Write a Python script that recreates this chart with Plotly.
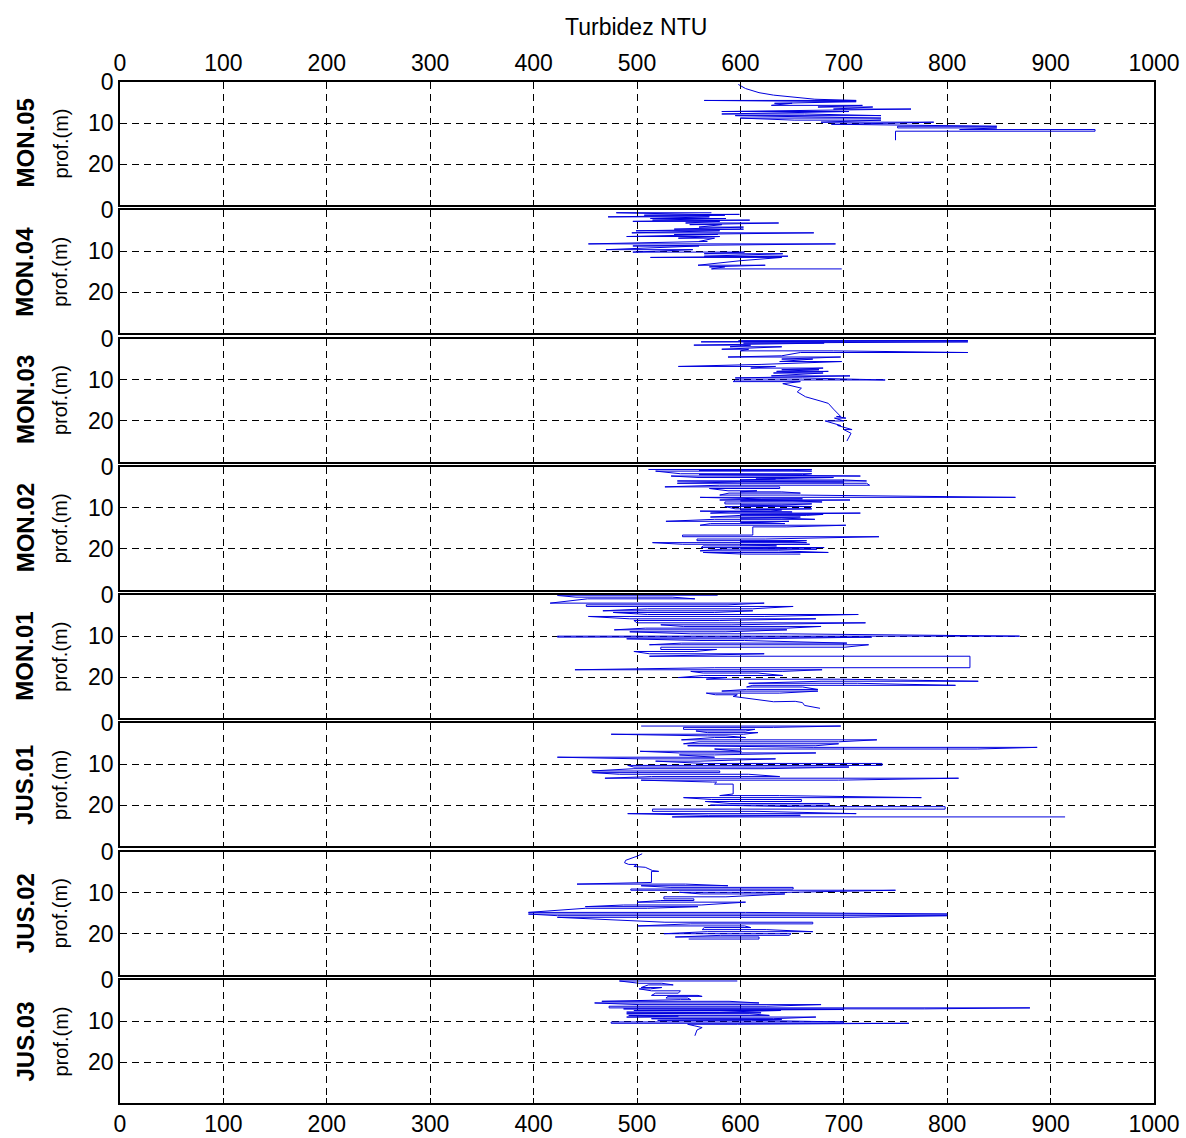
import plotly.graph_objects as go

# ---------------- data ----------------
# each row: (depth m, NTU start of segment, NTU end of segment)
stations = ["MON.05", "MON.04", "MON.03", "MON.02", "MON.01", "JUS.01", "JUS.02", "JUS.03"]

x_ticks = [0, 100, 200, 300, 400, 500, 600, 700, 800, 900, 1000]
y_ticks = [0, 10, 20]

mon05 = [(0.6, 598, 598), (1.6, 605, 605), (2.6, 618, 618), (3.2, 632, 632), (4.2, 672, 672),
         (4.5, 712, 565), (4.8, 700, 712), (5.2, 633, 650), (5.7, 630, 718), (6.1, 675, 728),
         (6.6, 690, 765), (7.2, 582, 705), (7.8, 582, 662), (8.2, 736, 595), (8.8, 736, 600),
         (9.3, 652, 736), (9.8, 678, 787), (10.3, 700, 688), (10.8, 848, 752), (11.2, 752, 848),
         (11.6, 812, 943), (12.0, 943, 750), (14.2, 750, 750)]

mon04 = [(0.6, 572, 480), (1.0, 560, 599), (1.2, 507, 585), (1.6, 472, 570), (2.0, 513, 586),
         (2.4, 515, 609), (2.7, 496, 580), (3.1, 547, 637), (3.5, 551, 582), (4.1, 560, 603),
         (4.6, 536, 603), (5.0, 499, 580), (5.5, 495, 671), (5.9, 536, 578), (6.4, 490, 580),
         (6.8, 540, 575), (7.6, 560, 568), (8.2, 453, 692), (8.7, 496, 560), (9.6, 470, 554),
         (10.2, 496, 604), (10.6, 565, 641), (11.2, 565, 646), (11.5, 513, 640), (12.3, 600, 600),
         (13.4, 559, 624), (13.8, 570, 585), (14.3, 572, 698)]

mon03 = [(0.5, 598, 820), (0.8, 562, 820), (1.1, 603, 681), (1.6, 555, 610), (2.0, 590, 640),
         (2.6, 582, 608), (3.0, 600, 690), (3.4, 820, 658), (4.2, 640, 640), (4.5, 588, 697),
         (5.0, 640, 670), (5.6, 638, 698), (6.3, 620, 620), (6.8, 540, 634), (7.2, 610, 680),
         (7.6, 640, 676), (8.0, 635, 685), (8.4, 632, 680), (9.1, 630, 706), (9.6, 595, 660),
         (10.1, 740, 595), (10.5, 593, 658), (11.0, 641, 641), (11.6, 651, 651), (12.1, 659, 659),
         (13.0, 655, 655), (14.2, 663, 663), (15.2, 677, 677), (15.8, 685, 685), (17.2, 690, 690),
         (19.0, 697, 693), (19.4, 702, 691), (20.1, 700, 682), (21.2, 697, 694), (22.2, 708, 700),
         (23.1, 707, 707), (25.0, 703, 703)]

mon02 = [(0.64, 511, 669), (0.85, 560, 650), (1.04, 669, 518), (1.68, 542, 669), (1.9, 660, 560),
         (2.24, 716, 533), (2.6, 560, 690), (2.96, 615, 634), (3.2, 600, 700), (3.44, 722, 539),
         (3.7, 700, 600), (4.0, 539, 722), (4.48, 725, 580), (4.88, 527, 638), (5.28, 638, 570),
         (5.84, 588, 616), (6.1, 600, 640), (6.4, 658, 589), (6.88, 580, 658), (7.44, 866, 561),
         (7.8, 620, 660), (8.08, 580, 706), (8.3, 600, 650), (8.56, 679, 585), (9.04, 585, 669),
         (9.3, 640, 600), (9.68, 669, 585), (10.24, 595, 669), (10.5, 600, 640), (10.8, 629, 561),
         (11.0, 650, 590), (11.28, 571, 716), (11.6, 600, 680), (11.84, 664, 600), (12.24, 571, 658),
         (12.5, 600, 640), (12.8, 672, 575), (13.28, 528, 647), (13.6, 600, 620), (13.84, 643, 571),
         (14.24, 561, 702), (14.64, 645, 612), (16.3, 612, 612), (16.64, 612, 544), (17.04, 544, 734),
         (17.6, 624, 558), (18.0, 558, 664), (18.2, 600, 650), (18.48, 664, 515), (18.88, 544, 667),
         (19.0, 650, 600), (19.28, 635, 564), (19.68, 562, 681), (19.9, 600, 640), (20.08, 674, 583),
         (20.48, 561, 637), (20.88, 685, 564), (21.28, 603, 658)]

mon01 = [(0.08, 578, 423), (0.49, 441, 534), (0.9, 556, 452), (1.95, 416, 623), (2.36, 588, 451),
         (2.76, 451, 651), (3.33, 612, 510), (3.82, 467, 612), (4.23, 575, 477), (4.72, 510, 714),
         (5.2, 623, 453), (5.77, 493, 673), (6.18, 580, 497), (6.75, 500, 721), (7.24, 591, 523),
         (7.64, 545, 678), (8.05, 645, 508), (8.46, 478, 645), (8.94, 586, 493), (9.43, 552, 641),
         (10.0, 870, 423), (10.24, 423, 727), (10.65, 608, 490), (11.06, 560, 604), (11.7, 703, 543),
         (12.1, 512, 724), (12.7, 701, 523), (13.25, 523, 577), (13.74, 556, 497), (14.3, 512, 623),
         (14.9, 512, 822), (17.7, 822, 575), (18.2, 440, 679), (18.6, 641, 552), (19.0, 564, 617),
         (19.6, 641, 564), (20.1, 540, 586), (20.5, 567, 697), (21.0, 830, 678), (21.5, 608, 713),
         (22.0, 808, 612), (22.4, 606, 660), (23.0, 675, 606), (23.4, 582, 675), (23.9, 638, 567),
         (24.3, 576, 597), (24.7, 593, 593), (25.3, 610, 610), (26.0, 632, 632), (25.9, 653, 653),
         (26.2, 660, 660), (26.9, 662, 662), (27.3, 670, 670), (27.6, 677, 677)]

jus01 = [(0.64, 504, 697), (0.96, 632, 545), (1.44, 545, 614), (1.84, 605, 557), (2.24, 568, 617),
         (2.64, 603, 475), (3.04, 568, 586), (3.44, 605, 575), (4.0, 543, 732), (4.48, 695, 560),
         (4.96, 545, 695), (5.44, 673, 549), (5.84, 671, 887), (6.24, 829, 575), (6.8, 601, 503),
         (7.2, 541, 673), (7.68, 575, 541), (8.24, 575, 423), (8.64, 503, 634), (9.2, 561, 518),
         (9.76, 565, 737), (10.24, 737, 491), (10.64, 497, 705), (11.04, 623, 497), (11.6, 456, 580),
         (12.0, 580, 457), (12.4, 483, 608), (12.96, 638, 514), (13.36, 469, 811), (13.84, 695, 504),
         (14.3, 573, 577), (14.8, 575, 593), (17.2, 593, 593), (17.6, 580, 638), (18.1, 775, 545),
         (18.56, 572, 659), (19.04, 659, 566), (19.52, 590, 686), (19.92, 686, 571), (20.3, 653, 798),
         (20.9, 798, 515), (21.44, 515, 615), (22.0, 712, 491), (22.4, 569, 658), (22.8, 534, 914)]

jus02 = [(0.5, 505, 505), (1.1, 500, 500), (2.1, 489, 489), (2.7, 488, 488), (3.1, 492, 500),
         (3.6, 497, 497), (3.8, 508, 508), (4.6, 515, 515), (4.8, 521, 514), (7.5, 514, 514),
         (7.9, 442, 547), (8.3, 588, 504), (8.7, 532, 651), (9.1, 651, 494), (9.4, 494, 750),
         (9.9, 645, 541), (10.3, 562, 643), (11.0, 586, 526), (11.5, 526, 555), (11.9, 555, 523),
         (12.3, 500, 605), (13.0, 562, 487), (13.4, 450, 559), (13.8, 510, 450), (14.8, 395, 605),
         (15.2, 800, 395), (15.6, 423, 800), (16.0, 703, 423), (17.2, 527, 670), (17.6, 670, 552),
         (18.1, 501, 604), (18.5, 610, 565), (19.0, 563, 625), (19.5, 670, 568), (20.0, 526, 649),
         (20.4, 647, 581), (20.8, 537, 618), (21.3, 618, 550)]

jus03 = [(0.24, 597, 483), (0.8, 502, 524), (1.2, 535, 511), (1.84, 504, 524), (2.16, 513, 502),
         (2.64, 514, 542), (3.2, 540, 518), (3.76, 514, 559), (4.0, 563, 530), (4.4, 528, 549),
         (4.8, 552, 542), (5.2, 466, 589), (5.6, 618, 459), (6.0, 502, 678), (6.4, 625, 473),
         (6.8, 473, 880), (7.04, 778, 487), (7.2, 540, 700), (7.44, 497, 639), (7.84, 580, 490),
         (8.0, 560, 620), (8.24, 490, 609), (8.64, 628, 492), (8.8, 600, 540), (9.04, 490, 673),
         (9.44, 632, 514), (9.6, 560, 640), (9.84, 520, 611), (10.24, 700, 475), (10.56, 475, 763),
         (10.8, 597, 549), (11.2, 556, 556), (11.6, 563, 563), (12.2, 558, 558), (13.6, 556, 556)]

profiles = [mon05, mon04, mon03, mon02, mon01, jus01, jus02, jus03]

# ---------------- layout geometry ----------------
W, H = 1186, 1138
ml, mr, mt, mb = 120, 32, 82, 35
plot_w = W - ml - mr
plot_h = H - mt - mb
panel_h = 123
gap = (plot_h - 8 * panel_h) / 7

FONT = "Liberation Sans, Arial, Helvetica, sans-serif"
LINE_COLOR = "#0000dd"

fig = go.Figure()
layout = {}
annotations = []

for i, (name, rows) in enumerate(zip(stations, profiles)):
    xs, ys = [], []
    for d, a, b in rows:
        xs.extend([a, b])
        ys.extend([d, d])
    n = i + 1
    fig.add_trace(go.Scatter(
        x=xs, y=ys, mode="lines",
        line=dict(color=LINE_COLOR, width=1),
        xaxis=f"x{n}", yaxis=f"y{n}",
        showlegend=False, hoverinfo="skip"))

    top_px = i * (panel_h + gap)
    y1 = 1 - top_px / plot_h
    y0 = 1 - (top_px + panel_h) / plot_h

    xkey = "xaxis" if n == 1 else f"xaxis{n}"
    ykey = "yaxis" if n == 1 else f"yaxis{n}"
    layout[xkey] = dict(
        domain=[0, 1], anchor=f"y{n}", range=[0, 1000],
        tickmode="array", tickvals=x_ticks,
        showticklabels=(n == 1 or n == 8),
        side="top" if n == 1 else "bottom",
        ticks="inside", ticklen=5, tickwidth=1, tickcolor="black",
        showline=True, linecolor="black", linewidth=1.5, mirror="ticks",
        showgrid=True, gridcolor="black", gridwidth=1, griddash="7px,5px",
        zeroline=False, automargin=False,
        tickfont=dict(size=23, color="black", family=FONT),
    )
    layout[ykey] = dict(
        domain=[y0, y1], anchor=f"x{n}", range=[30, 0],
        tickmode="array", tickvals=y_ticks,
        ticks="inside", ticklen=5, tickwidth=1, tickcolor="black",
        showline=True, linecolor="black", linewidth=1.5, mirror="ticks",
        showgrid=True, gridcolor="black", gridwidth=1, griddash="7px,5px",
        zeroline=False, automargin=False,
        tickfont=dict(size=23, color="black", family=FONT),
    )
    yc = (y0 + y1) / 2
    annotations.append(dict(
        text=f"<b>{name}</b>", xref="paper", yref="paper",
        x=(25 - ml) / plot_w, y=yc, xanchor="center", yanchor="middle",
        textangle=-90, showarrow=False,
        font=dict(size=24, color="black", family=FONT)))
    annotations.append(dict(
        text="prof.(m)", xref="paper", yref="paper",
        x=(60 - ml) / plot_w, y=yc, xanchor="center", yanchor="middle",
        textangle=-90, showarrow=False,
        font=dict(size=20, color="black", family=FONT)))

annotations.append(dict(
    text="Turbidez NTU", xref="paper", yref="paper",
    x=(636 - ml) / plot_w, y=1 + (mt - 27) / plot_h,
    xanchor="center", yanchor="middle", showarrow=False,
    font=dict(size=23, color="black", family=FONT)))

fig.update_layout(
    width=W, height=H,
    margin=dict(l=ml, r=mr, t=mt, b=mb, pad=0, autoexpand=False),
    paper_bgcolor="white", plot_bgcolor="white",
    font=dict(family=FONT, color="black"),
    annotations=annotations,
    **layout,
)

fig.write_html(
    "out.html",
    config={"displayModeBar": False},
    post_script="document.body.style.margin='0px';"
                "document.documentElement.style.overflow='hidden';"
                "document.body.style.overflow='hidden';",
)
